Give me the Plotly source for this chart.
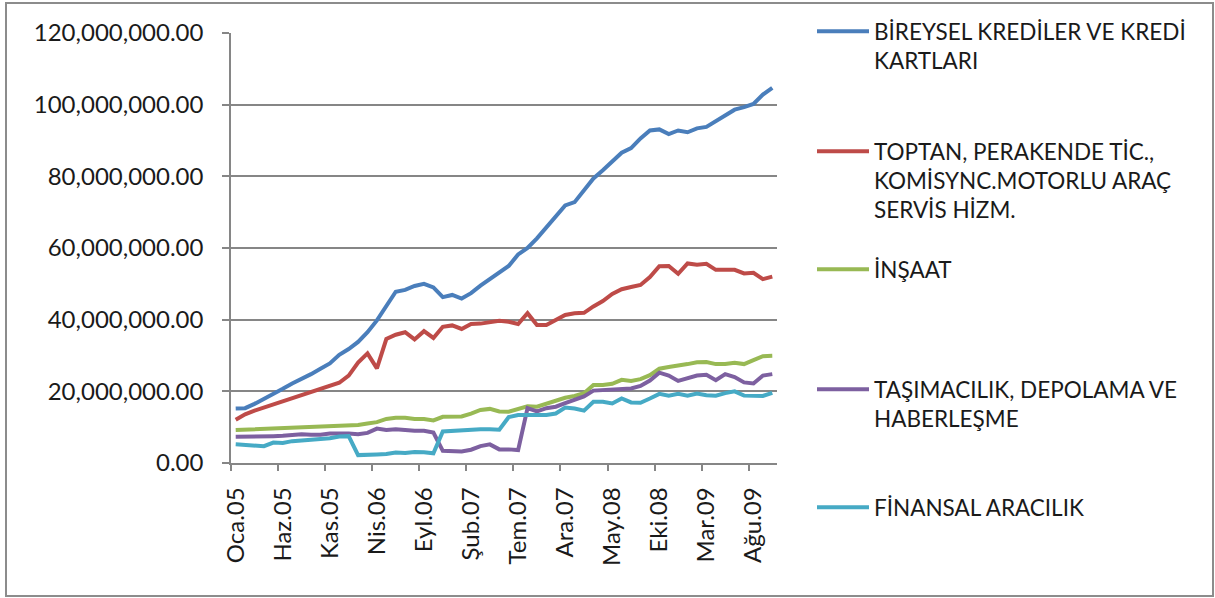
import plotly.graph_objects as go

month_names = ["Oca", "Şub", "Mar", "Nis", "May", "Haz", "Tem", "Ağu", "Eyl", "Eki", "Kas", "Ara"]
n_months = 58  # Oca.05 .. Eki.09
months = [f"{month_names[i % 12]}.{5 + i // 12:02d}" for i in range(n_months)]
tick_idx = list(range(0, n_months, 5))
tick_text = [months[i] for i in tick_idx]

series_names = [
    "BİREYSEL KREDİLER VE KREDİ<br>KARTLARI",
    "TOPTAN, PERAKENDE TİC.,<br>KOMİSYNC.MOTORLU ARAÇ<br>SERVİS HİZM.",
    "İNŞAAT",
    "TAŞIMACILIK, DEPOLAMA VE<br>HABERLEŞME",
    "FİNANSAL ARACILIK",
]

bireysel = [15.2, 15.3, 16.5, 17.8, 19.2, 20.7, 22.2, 23.4, 24.8, 26.3,
            27.8, 30.2, 31.8, 33.8, 36.5, 39.8, 44.0, 47.8, 48.3, 49.4,
            50.0, 49.0, 46.3, 46.9, 45.9, 47.4, 49.5, 51.4, 53.2, 55.0,
            58.2, 60.0, 62.7, 65.7, 69.0, 71.9, 72.8, 76.3, 79.4, 81.7,
            84.3, 86.6, 87.9, 90.6, 92.8, 93.1, 91.8, 92.8, 92.3, 93.4,
            93.8, 95.5, 97.1, 98.6, 99.3, 100.2, 102.8, 104.7]
toptan = [12.1, 13.6, 14.6, 15.5, 16.3, 17.2, 18.0, 18.9, 19.9, 20.8,
          21.6, 22.4, 24.4, 28.0, 30.6, 26.4, 34.6, 35.8, 36.5, 34.5,
          36.8, 34.9, 38.0, 38.4, 37.4, 38.8, 38.9, 39.2, 39.7, 39.4,
          38.8, 41.8, 38.5, 38.5, 40.0, 41.3, 41.8, 41.9, 43.7, 45.2,
          47.2, 48.5, 49.1, 49.7, 51.9, 54.9, 55.0, 52.8, 55.7, 55.3,
          55.6, 53.9, 53.9, 53.9, 52.9, 53.1, 51.3, 52.0]
insaat = [9.2, 9.3, 9.4, 9.5, 9.6, 9.7, 9.8, 10.1, 10.0, 10.1,
          10.3, 10.5, 10.6, 10.6, 11.0, 11.4, 12.3, 12.6, 12.6, 12.3,
          12.3, 11.9, 12.9, 12.9, 13.0, 13.8, 14.8, 15.1, 14.4, 14.3,
          15.0, 15.8, 15.7, 16.5, 17.2, 18.2, 18.7, 19.5, 21.8, 21.8,
          22.1, 23.2, 22.9, 23.4, 24.5, 26.3, 26.8, 27.1, 27.6, 28.1,
          28.2, 27.6, 27.6, 28.0, 27.6, 28.7, 29.8, 29.9]
tasimacilik = [7.3, 7.3, 7.3, 7.4, 7.5, 7.6, 7.8, 8.0, 7.9, 7.9,
               8.2, 8.3, 8.2, 8.0, 8.4, 9.6, 9.2, 9.4, 9.1, 9.0,
               9.0, 8.5, 3.4, 3.2, 3.2, 3.7, 4.7, 5.2, 3.8, 3.8,
               3.6, 15.3, 14.4, 15.3, 15.7, 16.7, 17.6, 18.6, 20.2, 20.4,
               20.6, 20.8, 20.8, 21.5, 23.0, 25.2, 24.4, 22.9, 23.6, 24.4,
               24.6, 23.1, 24.8, 24.0, 22.5, 22.2, 24.4, 24.8]
finansal = [5.2, 5.0, 4.8, 4.7, 5.7, 5.6, 6.1, 6.3, 6.5, 6.9,
            6.9, 7.4, 7.5, 2.2, 2.2, 2.4, 2.5, 2.9, 2.8, 3.1,
            3.0, 2.7, 8.8, 9.0, 9.1, 9.2, 9.4, 9.4, 9.3, 12.8,
            13.4, 13.4, 13.4, 13.4, 13.8, 15.5, 15.2, 14.6, 17.1, 17.1,
            16.6, 18.0, 16.9, 16.8, 18.0, 19.3, 18.8, 19.3, 18.8, 19.4,
            18.9, 18.8, 19.5, 20.0, 18.8, 18.7, 18.7, 19.6]

all_series = [bireysel, toptan, insaat, tasimacilik, finansal]
colors = ["#4A7EBB", "#BE4B48", "#98B954", "#7D60A0", "#46AAC5"]

# figure geometry (pixels)
W, H = 1215, 598
L, R, T, B = 231, 438, 33, 135
pw, ph = W - L - R, H - T - B


def px_x(px):
    return (px - L) / pw


def px_y(py):
    return (H - B - py) / ph


x = list(range(n_months))
fig = go.Figure()
legend_keys = ["legend", "legend2", "legend3", "legend4", "legend5"]
for name, vals, col, lk in zip(series_names, all_series, colors, legend_keys):
    fig.add_trace(go.Scatter(
        x=x, y=[v * 1e6 for v in vals], name=name, mode="lines",
        line=dict(color=col, width=4), legend=lk,
        customdata=months, hovertemplate="%{customdata}: %{y:,.2f}<extra></extra>",
    ))

font_family = "Lato, 'Open Sans', sans-serif"
text_color = "#1a1a1a"
grid_color = "#868686"

legend_tops = [10, 130, 248, 368, 486]
legend_layout = {}
for lk, top in zip(legend_keys, legend_tops):
    legend_layout[lk] = dict(
        x=px_x(812), y=px_y(top), xanchor="left", yanchor="top",
        font=dict(family=font_family, size=22.5, color=text_color),
        bgcolor="rgba(0,0,0,0)", valign="top", itemwidth=52,
    )

fig.update_layout(
    width=W, height=H,
    margin=dict(l=L, r=R, t=T, b=B, autoexpand=False),
    paper_bgcolor="white", plot_bgcolor="white",
    font=dict(family=font_family, size=24, color=text_color),
    showlegend=True,
    **legend_layout,
    xaxis=dict(
        range=[-0.5, n_months - 0.5],
        tickmode="array", tickvals=tick_idx, ticktext=tick_text,
        tickangle=-90, ticks="", ticklabelstandoff=13,
        showline=True, linecolor=grid_color, linewidth=1.5,
        showgrid=False, zeroline=False, automargin=False,
        minor=dict(tickmode="linear", tick0=-0.5, dtick=5, ticks="outside",
                   ticklen=6, tickcolor=grid_color, tickwidth=1.5, showgrid=False),
        tickfont=dict(family=font_family, size=24, color=text_color),
    ),
    yaxis=dict(
        range=[0, 120e6], tickmode="linear", tick0=0, dtick=20e6,
        tickformat=",.2f",
        showline=True, linecolor=grid_color, linewidth=1.5,
        showgrid=True, gridcolor=grid_color, gridwidth=1.5,
        zeroline=False, ticks="outside", ticklen=7, tickcolor=grid_color,
        tickwidth=1.5, ticklabelstandoff=14, automargin=False,
        tickfont=dict(family=font_family, size=24, color=text_color),
    ),
    shapes=[dict(
        type="rect", xref="paper", yref="paper",
        x0=px_x(6), x1=px_x(1213), y0=px_y(596), y1=px_y(3),
        line=dict(color="#8c8c8c", width=2), fillcolor="rgba(0,0,0,0)", layer="below",
    )],
)

fig.write_html(
    "out.html",
    config={"displayModeBar": False},
    post_script="document.body.style.margin='0';document.body.style.padding='0';",
)
